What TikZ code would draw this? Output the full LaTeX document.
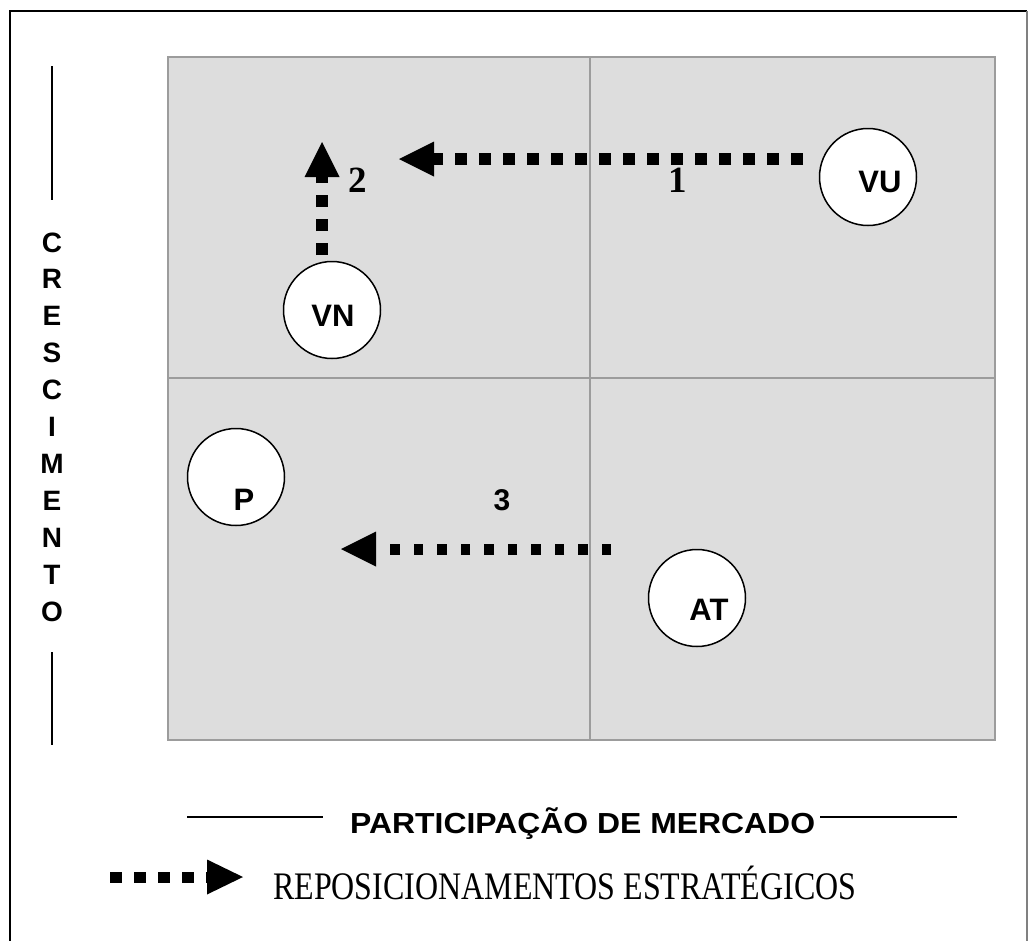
\documentclass[tikz,border=0pt]{standalone}
\usepackage{fontspec}
\setmainfont{Liberation Serif}
\setsansfont{Liberation Sans}
\newfontfamily\axisfont[FakeStretch=1.1]{Liberation Sans}
\newfontfamily\legendfont[FakeStretch=0.82]{Liberation Serif}
\usepackage{xcolor}
\usepackage{tikz}
\usetikzlibrary{arrows.meta, positioning}

\definecolor{quadfill}{HTML}{DDDDDD}
\definecolor{quadedge}{HTML}{9C9C9C}

\begin{document}
\begin{tikzpicture}[x=1pt, y=-1pt,
    unit/.style={circle, draw=black, line width=1.5pt, fill=white, minimum size=97pt, inner sep=0pt},
    unitname/.style={font=\sffamily\bfseries\fontsize{31}{31}\selectfont, inner sep=0pt, anchor=base},
    num/.style={font=\bfseries\fontsize{37}{37}\selectfont, inner sep=0pt, anchor=base},
    move/.style={line width=12pt, dash pattern=on 12pt off 12pt, -{Triangle[length=35pt, width=35pt, line width=0pt]}},
    quadline/.style={draw=quadedge, line width=2pt},
    rule/.style={line width=2pt}
]
\useasboundingbox (0,0) rectangle (1028,940);
% frame
\draw[line width=2pt] (10,950) -- (10,11) -- (1027,11);
\draw[gray, line width=1.2pt] (1027,11) -- (1027,950);

% quadrants
\draw[quadline, fill=quadfill] (168,57) rectangle (995,740);
\draw[quadline] (590,57) -- (590,740);
\draw[quadline] (168,378) -- (995,378);

% units
\node[unit] (VU) at (868,177) {};
\node[unit] (VN) at (332,310) {};
\node[unit] (P)  at (236,477) {};
\node[unit] (AT) at (697,598) {};
\node[unitname] (VU-lbl) at ([shift={(12,15)}]VU.center) {VU};
\node[unitname] (VN-lbl) at ([shift={(1,16)}]VN.center) {VN};
\node[unitname] (P-lbl)  at ([shift={(8,33)}]P.center) {P};
\node[unitname] (AT-lbl) at ([shift={(12,22)}]AT.center) {AT};

% moves
\coordinate (m1s) at (803,159);
\coordinate (m1e) at (399,159);
\coordinate (m2s) at (322,255);
\coordinate (m2e) at (322,142);
\coordinate (m3s) at (611,549);
\coordinate (m3e) at (341,549);
\draw[move] (m1s) -- (m1e);
\draw[move] (m2s) -- (m2e);
\draw[move, line width=11pt, dash pattern=on 9.5pt off 14pt] (m3s) -- (m3e);
\node[num] (n1) at (678,192) {1};
\node[num] (n2) at (358,192) {2};
\node[unitname, font=\sffamily\bfseries\fontsize{30}{30}\selectfont] (n3) at (502,510) {3};

% vertical axis
\draw[rule] (52,66) -- (52,200);
\draw[rule] (52,652) -- (52,745);
\foreach \ch [count=\i from 0] in {C,R,E,S,C,I,M,E,N,T,O}
    \node[unitname, font=\sffamily\bfseries\fontsize{28}{28}\selectfont] (y\i) at (52,252+36.9*\i) {\ch};

% horizontal axis
\node[anchor=base west, inner sep=0pt, font=\axisfont\bfseries\fontsize{29}{29}\selectfont] (xaxis) at (350,833) {PARTICIPAÇÃO DE MERCADO};
\draw[rule] (187,817) -- (323,817);
\draw[rule] (820,817) -- (957,817);

% legend
\coordinate (ls) at (110,877);
\coordinate (le) at (243,877);
\draw[move, line width=11pt, -{Triangle[length=36pt, width=35pt, line width=0pt]}] (ls) -- (le);
\node[anchor=base west, inner sep=0pt, font=\legendfont\fontsize{39}{39}\selectfont] (legend) at (273,899) {REPOSICIONAMENTOS ESTRATÉGICOS};
\end{tikzpicture}
\end{document}
